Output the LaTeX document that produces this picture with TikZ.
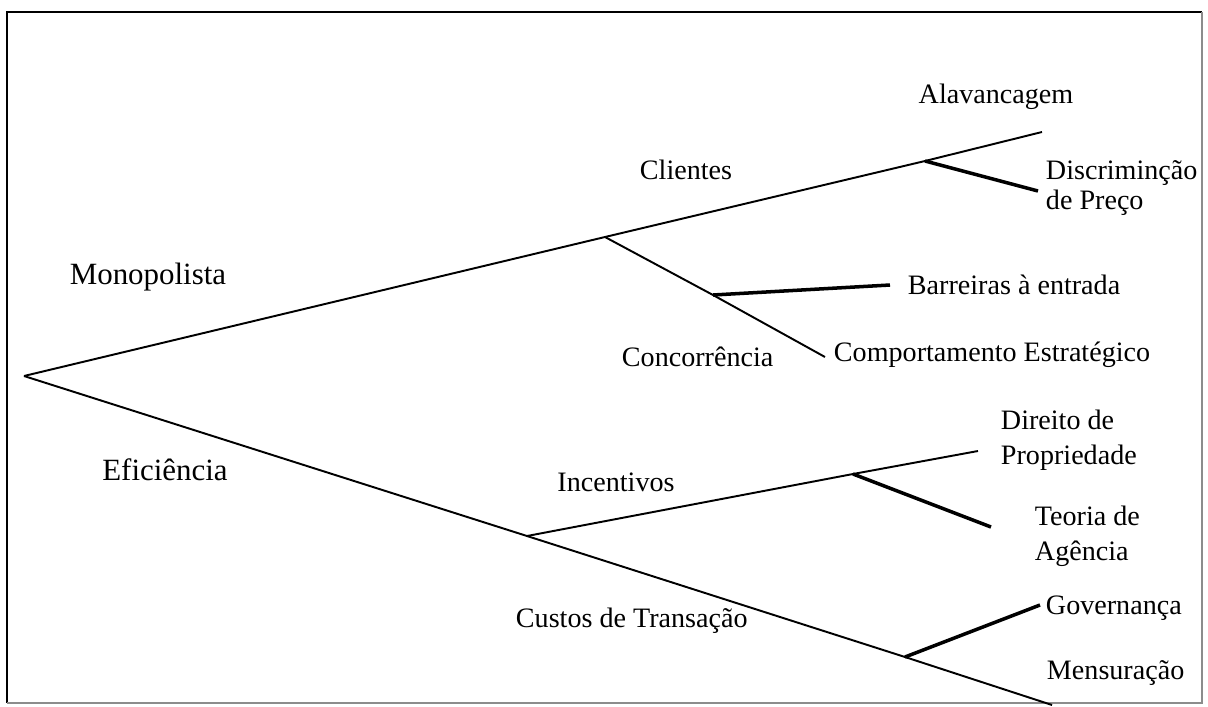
\documentclass[tikz,border=0pt]{standalone}
\usepackage{fontspec}
\setmainfont{Liberation Serif}
\tikzset{every picture/.style={line width=1.1pt},
  lbl/.style={inner sep=0pt,font=\fontsize{16}{20}\selectfont},
  biglbl/.style={inner sep=0pt,font=\fontsize{17.6}{20}\selectfont},
  twig/.style={line width=2pt}}

\begin{document}
\begin{tikzpicture}[x=0.02cm,y=-0.02cm]
\useasboundingbox (0,0) rectangle (1208,707);
% frame
\draw[line width=1.5pt] (1202,12) -- (7,12) -- (7,703);
\draw[line width=0.8pt,black!45] (7,703) -- (1202,703) -- (1202,12);

% forks and ends
\coordinate (root) at (24,376);
\coordinate (mono) at (605,237);
\coordinate (cli) at (925,161);
\coordinate (cliend) at (1042,132);
\coordinate (discend) at (1038,191);
\coordinate (conc) at (713,295);
\coordinate (concend) at (825,357);
\coordinate (barend) at (890,285);
\coordinate (efic) at (527,536);
\coordinate (inc) at (853,474);
\coordinate (incend) at (978,451);
\coordinate (teoend) at (991,527);
\coordinate (cus) at (905,657);
\coordinate (cusend) at (1052,705);
\coordinate (govend) at (1040,605);

% labels
\node (m) at (148,277) [biglbl] {Monopolista};
\node (e) at (165,470) [biglbl] {Eficiência};
\node (c) at (686,170) [lbl] {Clientes};
\node (cc) at (621,357) [lbl,anchor=west] {Concorrência};
\node (i) at (616,482) [lbl] {Incentivos};
\node (ct) at (515,621) [lbl,anchor=west] {Custos de Transação};
\node (al) at (996,97) [lbl] {Alavancagem};
\node (dp) at (1045,188) [lbl,anchor=west,align=left,font=\fontsize{16}{17}\selectfont] {Discriminção\\de Preço};
\node (be) at (907,285) [lbl,anchor=west] {Barreiras à entrada};
\node (ce) at (833,355) [lbl,anchor=west] {Comportamento Estratégico};
\node (dr) at (1000,440) [lbl,anchor=west,align=left] {Direito de\\Propriedade};
\node (ta) at (1034,536) [lbl,anchor=west,align=left] {Teoria de\\Agência};
\node (gv) at (1045,608) [lbl,anchor=west] {Governança};
\node (ms) at (1046,673) [lbl,anchor=west] {Mensuração};

% branches
\draw (root) -- (mono) -- (cli) -- (cliend);
\draw (root) -- (efic) -- (cus) -- (cusend);
\draw (mono) -- (conc) -- (concend);
\draw (efic) -- (inc) -- (incend);
\draw[twig] (cli) -- (discend);
\draw[twig] (conc) -- (barend);
\draw[twig] (inc) -- (teoend);
\draw[twig] (cus) -- (govend);

\end{tikzpicture}
\end{document}
